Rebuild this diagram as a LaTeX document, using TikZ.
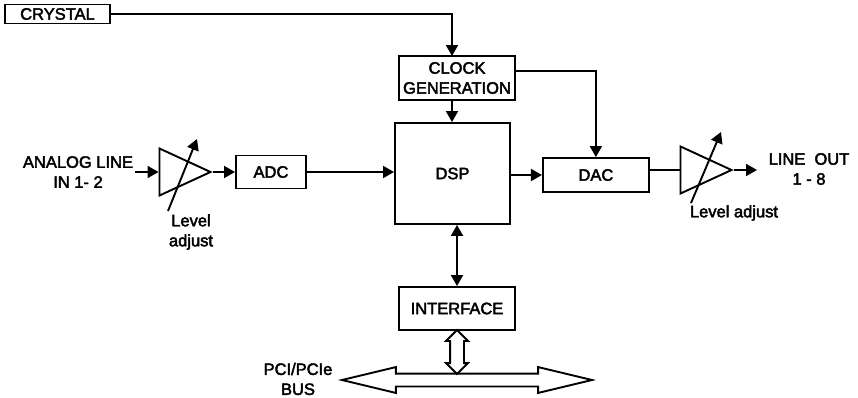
\documentclass[tikz,border=0pt]{standalone}
\usepackage{fontspec}
\setmainfont[FakeBold=2.6]{Liberation Sans}
\usetikzlibrary{positioning,calc,arrows.meta,shapes.geometric,shapes.arrows}
\tikzset{
    block/.style={
        rectangle,
        draw,
        line width=1.9pt,
        inner sep=0pt,
        align=center
    },
    amp/.style={
        isosceles triangle,
        isosceles triangle stretches,
        draw,
        line width=1.9pt,
        inner sep=0pt,
        minimum width=47pt,
        minimum height=51pt
    },
    lbl/.style={
        align=center,
        inner sep=0pt
    },
    sig/.style={
        -{Triangle[length=11pt,width=12pt]},
        line width=1.9pt
    },
    sigboth/.style={
        {Triangle[length=11pt,width=12pt]}-{Triangle[length=11pt,width=12pt]},
        line width=1.9pt
    },
    busarrow/.style={
        double arrow,
        draw,
        line width=1.9pt
    }
}
\begin{document}
\begin{tikzpicture}[x=1pt,y=-1pt,font=\fontsize{16.5}{20}\selectfont]
    \useasboundingbox (0,0) rectangle (858,397);
    \node[block, minimum width=105pt, minimum height=19pt] (crystal) at (57.5,14) {CRYSTAL};
    \node[block, minimum width=116pt, minimum height=44pt] (clock) at (457,78) {CLOCK\\GENERATION};
    \node[block, minimum width=115pt, minimum height=101pt] (dsp) at (452.5,173.5) {DSP};
    \node[block, right=31pt of dsp, minimum width=106pt, minimum height=34pt, yshift=-1.5pt] (dac) {DAC};
    \node[block, minimum width=116pt, minimum height=43pt] (iface) at (457,308.5) {INTERFACE};

    \node[amp, anchor=apex] (ampin) at (213,172) {};
    \node[block, right=22pt of ampin.apex, minimum width=70pt, minimum height=33pt] (adc) {ADC};
    \node[amp, anchor=apex] (ampout) at (734,170) {};

    \node[lbl] (analog) at (78,172) {ANALOG LINE\\IN 1- 2};
    \node[lbl] (lvlin) at (191,232) {Level\\adjust};
    \node[lbl] (lvlout) at (734,213) {Level adjust};
    \node[lbl] (lineout) at (809,169) {LINE\ \ OUT\\1 - 8};
    \node[lbl] (pci) at (298,379) {PCI/PCIe\\BUS};

    \node[busarrow, inner xsep=0pt, inner ysep=5.5pt, minimum height=250pt, minimum width=24pt, double arrow head extend=6.5pt, double arrow tip angle=27] (bus) at (467,380) {};
    \node[busarrow, inner sep=6pt, shape border rotate=90, minimum height=44pt, minimum width=20pt, double arrow head extend=4pt, double arrow tip angle=90] (link) at (457,352) {};

    \coordinate (linein) at (135,172);
    \coordinate (lineend) at (757,170);
    \coordinate (clockin) at (452,56);
    \coordinate (clockout) at (515,71);
    \coordinate (lvlina) at (168,211);
    \coordinate (lvlinb) at (197,139);
    \coordinate (lvlouta) at (691,203);
    \coordinate (lvloutb) at (721,132);

    \draw[sig] (linein) -- (ampin.west);
    \draw[sig] (ampin.apex) -- (adc);
    \draw[sig] (adc) -- (adc -| dsp.west);
    \draw[sig] (dsp.east |- dac.west) -- (dac);
    \draw (dac.east |- ampout.west) [line width=1.9pt] -- (ampout.west);
    \draw[sig] (ampout.apex) -- (lineend);
    \draw[sig] (crystal) -| (clockin);
    \draw[sig] (clockin |- clock.south) -- (clockin |- dsp.north);
    \draw[sig] (clockout) -| (dac);
    \draw[sigboth] (dsp.south -| iface) -- (iface);
    \draw[sig] (lvlina) -- (lvlinb);
    \draw[sig] (lvlouta) -- (lvloutb);
\end{tikzpicture}
\end{document}
